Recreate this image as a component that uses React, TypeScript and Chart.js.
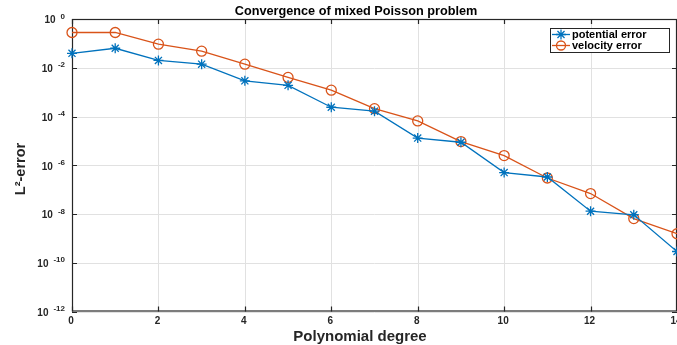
import React, { useEffect, useRef } from "react";
import { Chart, registerables } from "chart.js";

Chart.register(...registerables);

const degrees = [0, 1, 2, 3, 4, 5, 6, 7, 8, 9, 10, 11, 12, 13, 14];
const potentialError = [0.039, 0.063, 0.02, 0.014, 0.0029, 0.0019, 2.4e-4, 1.66e-4, 1.3e-5, 8.8e-6, 5e-7, 3.3e-7, 1.3e-8, 9.3e-9, 2.9e-10];
const velocityError = [0.28, 0.28, 0.093, 0.048, 0.014, 0.004, 0.0012, 2.1e-4, 6.6e-5, 9.4e-6, 2.5e-6, 3e-7, 6.9e-8, 6.5e-9, 1.55e-9];
const xTicks = [0, 2, 4, 6, 8, 10, 12, 14];
const yExponents = [0, -2, -4, -6, -8, -10, -12];

const chartTitle = "Convergence of mixed Poisson problem";
const xTitle = "Polynomial degree";
const legendLabels = ["potential error", "velocity error"];

const BLUE = "#0072BD";
const ORANGE = "#D95319";
const AXIS = "#262626";
const GRID = "#e1e1e1";
const FONT = '"Liberation Sans", Arial, Helvetica, sans-serif';

function drawStar(ctx: CanvasRenderingContext2D, x: number, y: number, r: number, color: string) {
  ctx.save();
  ctx.strokeStyle = color;
  ctx.lineWidth = 1.3;
  ctx.beginPath();
  for (let k = 0; k < 4; k++) {
    const a = (k * Math.PI) / 4;
    ctx.moveTo(x - r * Math.cos(a), y - r * Math.sin(a));
    ctx.lineTo(x + r * Math.cos(a), y + r * Math.sin(a));
  }
  ctx.stroke();
  ctx.restore();
}

function drawCircle(ctx: CanvasRenderingContext2D, x: number, y: number, r: number, color: string) {
  ctx.save();
  ctx.strokeStyle = color;
  ctx.lineWidth = 1.3;
  ctx.beginPath();
  ctx.arc(x, y, r, 0, Math.PI * 2);
  ctx.stroke();
  ctx.restore();
}

const matlabPlugin = {
  id: "matlabAxes",
  beforeDatasetsDraw(chart: any) {
    const { ctx, chartArea, scales } = chart;
    const { left, right, top, bottom } = chartArea;
    const xs = scales.x;
    const ys = scales.y;
    ctx.save();
    // grid
    ctx.strokeStyle = GRID;
    ctx.lineWidth = 1;
    ctx.beginPath();
    xTicks.forEach((t) => {
      const px = Math.round(xs.getPixelForValue(t)) + 0.5;
      ctx.moveTo(px, top);
      ctx.lineTo(px, bottom);
    });
    yExponents.forEach((e) => {
      const py = Math.round(ys.getPixelForValue(Math.pow(10, e))) + 0.5;
      ctx.moveTo(left, py);
      ctx.lineTo(right, py);
    });
    ctx.stroke();
    // box
    ctx.strokeStyle = AXIS;
    ctx.lineWidth = 1.2;
    ctx.strokeRect(left + 0.5, top + 0.5, right - left - 1, bottom - top - 1);
    // ticks inward
    ctx.beginPath();
    xTicks.forEach((t) => {
      const px = Math.round(xs.getPixelForValue(t)) + 0.5;
      ctx.moveTo(px, bottom);
      ctx.lineTo(px, bottom - 5);
      ctx.moveTo(px, top);
      ctx.lineTo(px, top + 5);
    });
    yExponents.forEach((e) => {
      const py = Math.round(ys.getPixelForValue(Math.pow(10, e))) + 0.5;
      ctx.moveTo(left, py);
      ctx.lineTo(left + 5, py);
      ctx.moveTo(right, py);
      ctx.lineTo(right - 5, py);
    });
    ctx.stroke();
    ctx.restore();
  },
  afterDraw(chart: any) {
    const { ctx, chartArea, scales } = chart;
    const { left, bottom } = chartArea;
    const xs = scales.x;
    const ys = scales.y;
    ctx.save();
    ctx.fillStyle = AXIS;
    // y tick labels
    yExponents.forEach((e) => {
      const py = ys.getPixelForValue(Math.pow(10, e));
      ctx.font = `bold 8px ${FONT}`;
      ctx.textAlign = "right";
      ctx.textBaseline = "middle";
      const expStr = String(e);
      const expRight = left - 7;
      ctx.fillText(expStr, expRight, py - 2.5);
      const w = ctx.measureText(expStr).width;
      ctx.font = `bold 10px ${FONT}`;
      ctx.fillText("10", expRight - w - 5, py + 1.5);
    });
    // x tick labels
    ctx.font = `bold 10px ${FONT}`;
    ctx.textAlign = "center";
    ctx.textBaseline = "middle";
    xTicks.forEach((t) => {
      const px = xs.getPixelForValue(t);
      ctx.fillText(String(t), px - 1, bottom + 10);
    });
    // x title
    ctx.font = `bold 15px ${FONT}`;
    ctx.fillText(xTitle, 360, 337);
    // y title
    ctx.save();
    ctx.translate(21, 169);
    ctx.rotate(-Math.PI / 2);
    ctx.font = `bold 14.5px ${FONT}`;
    ctx.textAlign = "center";
    ctx.textBaseline = "middle";
    ctx.fillText("L\u00B2-error", 0, 0);
    ctx.restore();
    // chart title
    ctx.fillStyle = "#000";
    ctx.font = `bold 12.7px ${FONT}`;
    ctx.textAlign = "center";
    ctx.textBaseline = "middle";
    ctx.fillText(chartTitle, 356, 11);
    // legend
    const lx = 550.5, ly = 28.5, lw = 119, lh = 24;
    ctx.fillStyle = "#fff";
    ctx.fillRect(lx, ly, lw, lh);
    ctx.strokeStyle = AXIS;
    ctx.lineWidth = 1;
    ctx.strokeRect(lx, ly, lw, lh);
    const rows = [34.5, 45.5];
    const colors = [BLUE, ORANGE];
    rows.forEach((ry, i) => {
      ctx.strokeStyle = colors[i];
      ctx.lineWidth = 1.3;
      ctx.beginPath();
      ctx.moveTo(552, ry);
      ctx.lineTo(570, ry);
      ctx.stroke();
      if (i === 0) drawStar(ctx, 561, ry, 5, BLUE);
      else drawCircle(ctx, 561, ry, 4.5, ORANGE);
      ctx.fillStyle = "#000";
      ctx.font = `bold 11px ${FONT}`;
      ctx.textAlign = "left";
      ctx.textBaseline = "middle";
      ctx.fillText(legendLabels[i], 572, ry + 0.5);
    });
    ctx.restore();
  },
};

export default function App() {
  const canvasRef = useRef<HTMLCanvasElement | null>(null);

  useEffect(() => {
    if (!canvasRef.current) return;
    const chart = new Chart(canvasRef.current, {
      type: "line",
      data: {
        datasets: [
          {
            label: legendLabels[0],
            data: degrees.map((d, i) => ({ x: d, y: potentialError[i] })),
            borderColor: BLUE,
            backgroundColor: "transparent",
            borderWidth: 1.3,
            pointStyle: "star",
            pointRadius: 5,
            pointBorderWidth: 1.3,
            pointBorderColor: BLUE,
            tension: 0,
          },
          {
            label: legendLabels[1],
            data: degrees.map((d, i) => ({ x: d, y: velocityError[i] })),
            borderColor: ORANGE,
            backgroundColor: "transparent",
            borderWidth: 1.3,
            pointStyle: "circle",
            pointRadius: 5,
            pointBorderWidth: 1.3,
            pointBorderColor: ORANGE,
            pointBackgroundColor: "transparent",
            tension: 0,
          },
        ],
      },
      options: {
        responsive: false,
        animation: false,
        devicePixelRatio: 1,
        clip: false as any,
        layout: { autoPadding: false, padding: { top: 19, right: 0, left: 0, bottom: 0 } },
        plugins: {
          legend: { display: false },
          title: { display: false },
          tooltip: { enabled: false },
        },
        scales: {
          x: {
            type: "linear",
            min: 0,
            max: 14,
            grid: { display: false },
            border: { display: false },
            ticks: { display: false },
            afterFit: (s: any) => {
              s.height = 33.5;
            },
          },
          y: {
            type: "logarithmic",
            min: 1e-12,
            max: 1,
            grid: { display: false },
            border: { display: false },
            ticks: { display: false },
            afterFit: (s: any) => {
              s.width = 72;
            },
          },
        },
      },
      plugins: [matlabPlugin],
    });
    return () => chart.destroy();
  }, []);

  return (
    <canvas
      ref={canvasRef}
      width={677}
      height={345}
      style={{ position: "fixed", left: 0, top: 0, display: "block", background: "#fff" }}
    />
  );
}
